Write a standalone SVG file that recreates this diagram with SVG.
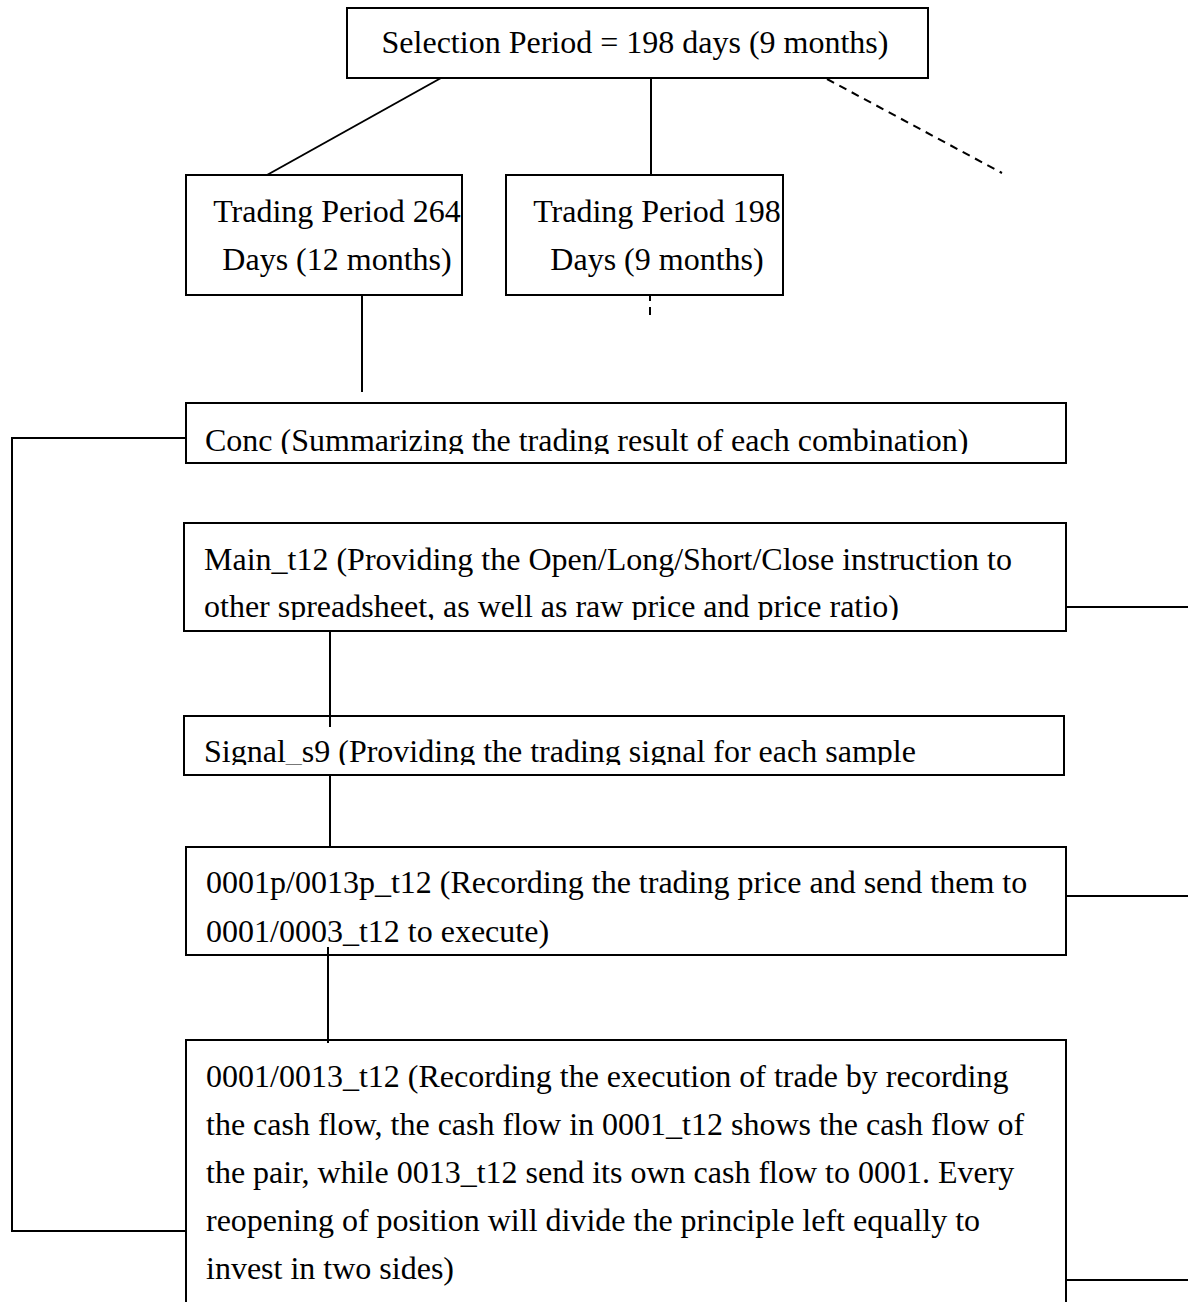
<svg xmlns="http://www.w3.org/2000/svg" width="1188" height="1302" viewBox="0 0 1188 1302">
<style>
.box{fill:#fff;stroke:#000;stroke-width:2}
.ln{fill:none;stroke:#000;stroke-width:2}
.dash{fill:none;stroke:#000;stroke-width:2;stroke-dasharray:8 6}
text{font-family:"Liberation Serif","Times New Roman",serif;font-size:32px;fill:#000}
.c{text-anchor:middle}
</style>
<defs>
<clipPath id="clipConc"><rect x="186" y="403" width="880" height="51"/></clipPath>
<clipPath id="clipMain"><rect x="184" y="523" width="882" height="97"/></clipPath>
<clipPath id="clipSig"><rect x="184" y="716" width="880" height="49"/></clipPath>
</defs>
<rect width="1188" height="1302" fill="#fff"/>
<g id="connectors">
<line class="ln" x1="441" y1="78" x2="267" y2="175"/>
<line class="ln" x1="651" y1="78" x2="651" y2="175"/>
<line class="dash" x1="827" y1="79" x2="1002" y2="173"/>
<line class="ln" x1="362" y1="295" x2="362" y2="392"/>
<line class="ln" x1="650" y1="296" x2="650" y2="315" stroke-dasharray="5 6 8"/>
<polyline class="ln" points="186,438 12,438 12,1231 186,1231"/>
<line class="ln" x1="1066" y1="607" x2="1188" y2="607"/>
<line class="ln" x1="1066" y1="896" x2="1188" y2="896"/>
<line class="ln" x1="1066" y1="1280" x2="1188" y2="1280"/>
</g>
<g id="selection">
<rect class="box" x="347" y="8" width="581" height="70"/>
<text class="c" x="635" y="53">Selection Period = 198 days (9 months)</text>
</g>
<g id="trading264">
<rect class="box" x="186" y="175" width="276" height="120"/>
<text class="c" x="337" y="222">Trading Period 264</text>
<text class="c" x="337" y="270">Days (12 months)</text>
</g>
<g id="trading198">
<rect class="box" x="506" y="175" width="277" height="120"/>
<text class="c" x="657" y="222">Trading Period 198</text>
<text class="c" x="657" y="270">Days (9 months)</text>
</g>
<g id="conc">
<rect class="box" x="186" y="403" width="880" height="60"/>
<text x="205" y="451" clip-path="url(#clipConc)">Conc (Summarizing the trading result of each combination)</text>
</g>
<g id="main">
<rect class="box" x="184" y="523" width="882" height="108"/>
<text x="204" y="570">Main_t12 (Providing the Open/Long/Short/Close instruction to</text>
<text x="204" y="617" clip-path="url(#clipMain)">other spreadsheet, as well as raw price and price ratio)</text>
</g>
<line class="ln" x1="330" y1="631" x2="330" y2="727"/>
<g id="signal">
<rect class="box" x="184" y="716" width="880" height="59"/>
<line class="ln" x1="330" y1="716" x2="330" y2="727"/>
<text x="204" y="762" clip-path="url(#clipSig)">Signal_s9 (Providing the trading signal for each sample</text>
</g>
<line class="ln" x1="330" y1="775" x2="330" y2="847"/>
<g id="price">
<rect class="box" x="186" y="847" width="880" height="108"/>
<text x="206" y="893">0001p/0013p_t12 (Recording the trading price and send them to</text>
<text x="206" y="942">0001/0003_t12 to execute)</text>
<line class="ln" x1="328" y1="947" x2="328" y2="955"/>
</g>
<line class="ln" x1="328" y1="955" x2="328" y2="1043"/>
<g id="execution">
<rect class="box" x="186" y="1040" width="880" height="300"/>
<line class="ln" x1="328" y1="1040" x2="328" y2="1043"/>
<text x="206" y="1087">0001/0013_t12 (Recording the execution of trade by recording</text>
<text x="206" y="1135">the cash flow, the cash flow in 0001_t12 shows the cash flow of</text>
<text x="206" y="1183">the pair, while 0013_t12 send its own cash flow to 0001. Every</text>
<text x="206" y="1231">reopening of position will divide the principle left equally to</text>
<text x="206" y="1279">invest in two sides)</text>
</g>
</svg>
